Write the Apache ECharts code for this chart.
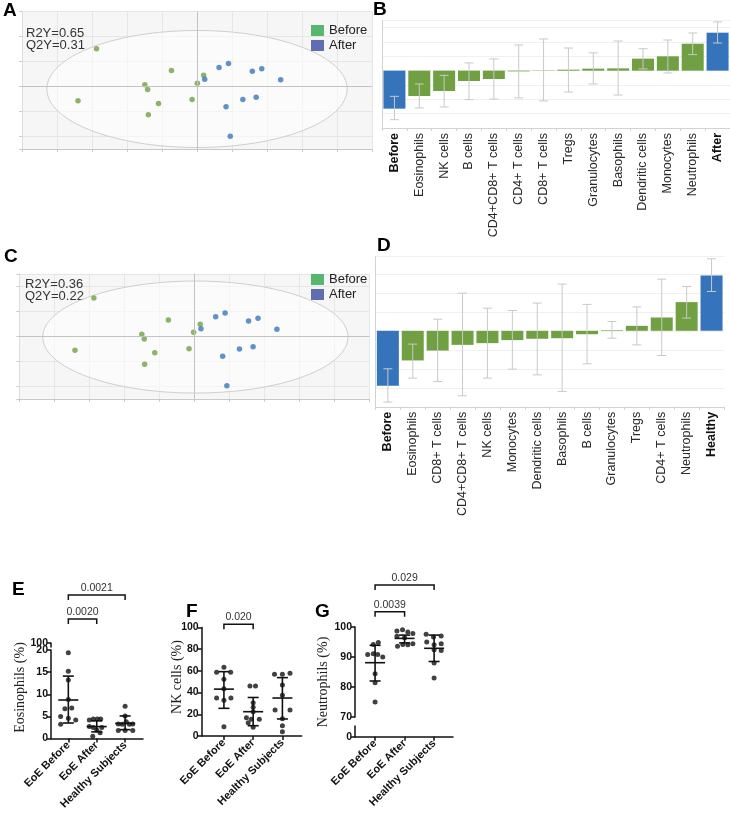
<!DOCTYPE html>
<html>
<head>
<meta charset="utf-8">
<script src="https://cdn.jsdelivr.net/npm/echarts@6/dist/echarts.min.js"></script>
<style>
  html, body { margin: 0; padding: 0; background: #fff; }
  #main { width: 730px; height: 821px; }
</style>
</head>
<body>
<div id="main"></div>
<script>
// ---- A / C : score plots (t1, t2) ----
const aBefore = [[-2.87, 1.51], [-0.73, 0.64], [0.19, 0.45], [0.01, 0.13], [-1.49, 0.07], [-1.41, -0.12], [-3.4, -0.57], [-0.14, -0.52], [-1.1, -0.68], [-1.39, -1.13]]
const aAfter = [[0.63, 0.76], [0.9, 0.92], [1.58, 0.61], [1.85, 0.71], [2.39, 0.27], [0.22, 0.29], [1.31, -0.52], [1.69, -0.43], [0.83, -0.81], [0.95, -1.99]]
const cBefore = [[-2.87, 1.53], [-0.74, 0.65], [0.17, 0.48], [-0.02, 0.16], [-1.5, 0.08], [-1.43, -0.11], [-3.41, -0.56], [-0.15, -0.5], [-1.13, -0.66], [-1.42, -1.12]]
const cAfter = [[0.61, 0.78], [0.88, 0.93], [1.55, 0.61], [1.82, 0.72], [2.36, 0.28], [0.19, 0.3], [1.29, -0.51], [1.68, -0.42], [0.81, -0.8], [0.93, -1.98]]
// ellipse: centre x, centre y, radius x, radius y
const aEllipse = [0, -0.1, 4.29, 2.34]
const cEllipse = [0.03, -0.03, 4.36, 2.24]
const aStats = ['R2Y=0.65', 'Q2Y=0.31']
const cStats = ['R2Y=0.36', 'Q2Y=0.22']

// ---- B / D : coefficients with jack-knife intervals ----
const bCats = ['Before', 'Eosinophils', 'NK cells', 'B cells', 'CD4+CD8+ T cells', 'CD4+ T cells', 'CD8+ T cells', 'Tregs', 'Granulocytes', 'Basophils', 'Dendritic cells', 'Monocytes', 'Neutrophils', 'After']
const bVals = [-2.65, -1.77, -1.42, -0.72, -0.58, -0.05, 0.02, 0.07, 0.14, 0.16, 0.84, 1.0, 1.88, 2.65]
const bLow = [-3.42, -2.6, -2.53, -2.02, -1.98, -1.9, -2.11, -1.49, -0.93, -1.7, 0.12, -0.16, 1.12, 1.93]
const bHigh = [-1.79, -0.93, -0.33, 0.54, 0.82, 1.79, 2.21, 1.58, 1.24, 2.07, 1.53, 2.14, 2.63, 3.4]

const dCats = ['Before', 'Eosinophils', 'CD8+ T cells', 'CD4+CD8+ T cells', 'NK cells', 'Monocytes', 'Dendritic cells', 'Basophils', 'B cells', 'Granulocytes', 'Tregs', 'CD4+ T cells', 'Neutrophils', 'Healthy']
const dVals = [-2.89, -1.56, -1.04, -0.74, -0.65, -0.49, -0.42, -0.39, -0.18, 0.03, 0.26, 0.7, 1.51, 2.91]
const dLow = [-3.75, -2.49, -2.67, -3.42, -2.49, -2.02, -2.32, -3.19, -1.74, -0.39, -0.74, -1.3, 0.67, 2.07]
const dHigh = [-2.0, -0.7, 0.61, 1.98, 1.19, 1.07, 1.46, 2.46, 1.39, 0.49, 1.26, 2.72, 2.33, 3.79]

// ---- E / F / G : individual values, [jitter, value] ----
const groups = ['EoE Before', 'EoE After', 'Healthy Subjects']

const eBefore = [[0, 19.4], [0, 15.2], [0, 13.2], [0, 8.8], [-0.12, 6.7], [0.12, 6.9], [-0.27, 5.0], [0, 4.6], [0.26, 4.2], [-0.27, 3.2]]
const eAfter = [[-0.26, 4.2], [-0.12, 4.4], [0.02, 4.4], [0.14, 4.4], [-0.26, 2.7], [-0.12, 2.5], [0.18, 2.5], [0, 1.9], [0.12, 1.3], [-0.14, 0.5]]
const eHealthy = [[0, 7.3], [0, 5.1], [0.04, 3.8], [-0.24, 3.3], [-0.1, 3.2], [0.15, 3.2], [0.27, 3.3], [-0.24, 1.8], [0, 1.8], [0.27, 1.8]]
const eMean = [8.7, 2.7, 3.4]
const eSdLow = [3.5, 1.5, 2.0]
const eSdHigh = [14.1, 4.0, 5.1]
const ePairs = [[0, 2], [0, 1]]
const eP = ['0.0021', '0.0020']

const fBefore = [[0, 63.3], [-0.25, 58.7], [0.23, 58.7], [0, 52.2], [0, 43.5], [-0.25, 35], [0, 33], [0.24, 35], [0, 8.6]]
const fAfter = [[-0.11, 46.1], [0.08, 46.1], [0, 30.7], [0, 26.4], [0, 22.4], [-0.23, 16.9], [-0.06, 15.4], [0.21, 15.4], [-0.17, 12.3], [0, 8.0]]
const fHealthy = [[-0.27, 56.8], [0, 56.8], [0.26, 57.8], [0, 47], [0, 37.5], [-0.25, 24], [0.26, 24], [0, 16], [0, 9.5], [0, 4]]
const fMean = [43.2, 22.4, 35]
const fSdLow = [25.5, 9.5, 15.7]
const fSdHigh = [59.3, 35.5, 53.8]
const fPairs = [[0, 1]]
const fP = ['0.020']

const gBefore = [[-0.06, 94.2], [0.11, 94.8], [-0.25, 90.8], [-0.06, 91.1], [0.09, 90.8], [0.26, 90], [0, 84.4], [0, 81.4], [0, 75]]
const gAfter = [[-0.26, 98.7], [-0.07, 99.1], [0.11, 98.3], [0.28, 97.8], [-0.26, 96.9], [0, 96.4], [-0.24, 93.6], [-0.06, 94.2], [0.11, 94.1], [0.28, 94.4]]
const gHealthy = [[-0.27, 97.6], [-0.02, 96.7], [0.24, 97], [-0.25, 95], [0, 94.1], [0.24, 94.4], [0, 92.4], [0.24, 92.2], [0, 88], [0, 83]]
const gMean = [88.1, 96.2, 92.9]
const gSdLow = [82, 94.7, 88.5]
const gSdHigh = [93.9, 97.3, 97.3]
const gPairs = [[0, 2], [0, 1]]
const gP = ['0.029', '0.0039']

// 颜色
const green = '#70a042'
const blue = '#3574ba'
const ptGreen = '#72a144'
const ptBlue = '#3a78be'

const chart = echarts.init(document.getElementById('main'))

// 组内散点: 组序号 + 抖动
function spread(groupsData) {
    let out = []
    groupsData.forEach((g, gi) => {
        g.forEach(p => out.push([gi + p[0], p[1]]))
    })
    return out
}

// 误差线 (B, D)
function errRender(params, api) {
    const x = api.value(0)
    const lo = api.coord([x, api.value(1)])
    const hi = api.coord([x, api.value(2)])
    const w = 4.5
    const st = { stroke: '#c9c9c9', lineWidth: 1 }
    return {
        type: 'group',
        children: [
            { type: 'line', shape: { x1: lo[0], y1: lo[1], x2: hi[0], y2: hi[1] }, style: st },
            { type: 'line', shape: { x1: lo[0] - w, y1: lo[1], x2: lo[0] + w, y2: lo[1] }, style: st },
            { type: 'line', shape: { x1: hi[0] - w, y1: hi[1], x2: hi[0] + w, y2: hi[1] }, style: st },
        ],
    }
}

// 均值 ± SD (E, F, G)
function meanRender(params, api) {
    const x = api.value(0)
    const m = api.coord([x, api.value(1)])
    const lo = api.coord([x, api.value(2)])
    const hi = api.coord([x, api.value(3)])
    const st = { stroke: '#111', lineWidth: 1.6 }
    return {
        type: 'group',
        children: [
            { type: 'line', shape: { x1: m[0] - 10, y1: m[1], x2: m[0] + 10, y2: m[1] }, style: st },
            { type: 'line', shape: { x1: lo[0], y1: lo[1], x2: hi[0], y2: hi[1] }, style: st },
            { type: 'line', shape: { x1: lo[0] - 5.5, y1: lo[1], x2: lo[0] + 5.5, y2: lo[1] }, style: st },
            { type: 'line', shape: { x1: hi[0] - 5.5, y1: hi[1], x2: hi[0] + 5.5, y2: hi[1] }, style: st },
        ],
    }
}

// 显著性括号, levels 为像素高度
function bracketRender(levels, labels) {
    return function (params, api) {
        const i = params.dataIndex
        const x1 = api.coord([api.value(0), 0])[0]
        const x2 = api.coord([api.value(1), 0])[0]
        const y = levels[i]
        return {
            type: 'group',
            children: [
                {
                    type: 'polyline',
                    shape: { points: [[x1, y + 5], [x1, y], [x2, y], [x2, y + 5]] },
                    style: { stroke: '#111', lineWidth: 1.5, fill: null },
                },
                {
                    type: 'text',
                    x: (x1 + x2) / 2,
                    y: y - 7,
                    style: { text: labels[i], fontSize: 10.5, fontFamily: 'Arial', fill: '#333', align: 'center', verticalAlign: 'middle' },
                },
            ],
        }
    }
}

function meanData(mean, lo, hi) {
    return mean.map((m, i) => [i, m, lo[i], hi[i]])
}

const scoreX = (grid) => ({
    gridIndex: grid, type: 'value', min: -5, max: 5, interval: 1,
    axisLine: { onZero: false, lineStyle: { color: '#c8c8c8' } },
    axisTick: { show: true, length: 3, lineStyle: { color: '#c8c8c8' } },
    axisLabel: { show: false },
    splitLine: { show: true, lineStyle: { color: '#e6e6e6' } },
})
const scoreY = (grid, min, max) => ({
    gridIndex: grid, type: 'value', min: min, max: max,
    axisLine: { show: true, onZero: false, lineStyle: { color: '#dddddd' } },
    axisTick: { show: true, length: 3, lineStyle: { color: '#cccccc' } },
    axisLabel: { show: false },
    splitLine: { show: true, lineStyle: { color: '#e6e6e6' } },
})
const coefX = (grid, cats) => ({
    gridIndex: grid, type: 'category', data: cats,
    axisLine: { onZero: false, lineStyle: { color: '#d2d2d2' } },
    axisTick: { show: true, length: 3, lineStyle: { color: '#d2d2d2' } },
    axisLabel: {
        interval: 0, rotate: 90, margin: 5, fontSize: 12.5, fontFamily: 'Arial', color: '#2a2a2a',
        formatter: (v, i) => (i === 0 || i === cats.length - 1 ? '{b|' + v + '}' : v),
        rich: { b: { fontWeight: 'bold', fontSize: 12.5, fontFamily: 'Arial', color: '#111' } },
    },
})
const coefY = (grid, max) => ({
    gridIndex: grid, type: 'value', min: -4, max: max, interval: 1,
    axisLine: { show: true, onZero: false, lineStyle: { color: '#d2d2d2' } },
    axisTick: { show: false },
    axisLabel: { show: false },
    splitLine: { show: true, lineStyle: { color: '#f0f0f0' } },
})
const dotX = (grid, min, max, show) => ({
    gridIndex: grid, type: 'value', min: min, max: max, show: show,
    axisLine: { onZero: false, lineStyle: { color: '#111', width: 1.5 } },
    axisTick: { customValues: [0, 1, 2], length: 4, lineStyle: { color: '#111', width: 1.5 } },
    axisLabel: {
        customValues: [0, 1, 2], rotate: 45, margin: 5, fontSize: 11, fontWeight: 'bold', fontFamily: 'Arial', color: '#111',
        formatter: (v) => groups[Math.round(v)],
    },
    splitLine: { show: false },
})
const tickFont = { fontSize: 10.5, fontWeight: 'bold', fontFamily: 'Arial', color: '#111', margin: 3 }
const dotY = (grid, min, max, interval, labelExtra) => ({
    gridIndex: grid, type: 'value', min: min, max: max, interval: interval,
    axisLine: { show: true, onZero: false, lineStyle: { color: '#111', width: 1.5 } },
    axisTick: { show: true, length: 4, lineStyle: { color: '#111', width: 1.5 } },
    axisLabel: Object.assign({}, tickFont, labelExtra || {}),
    splitLine: { show: false },
})

const zeroLines = {
    silent: true, symbol: 'none', label: { show: false }, animation: false,
    lineStyle: { color: '#c2c2c2', type: 'solid', width: 1 },
    data: [{ xAxis: 0 }, { yAxis: 0 }],
}

const letter = (t, x, y) => ({ type: 'text', x: x, y: y, style: { text: t, fontSize: 19, fontWeight: 'bold', fontFamily: 'Arial', fill: '#000', verticalAlign: 'top' } })
const plain = (t, x, y) => ({ type: 'text', x: x, y: y, style: { text: t, fontSize: 13, fontFamily: 'Arial', fill: '#333', verticalAlign: 'middle' } })
const yName = (t, x, y) => ({ type: 'text', x: x, y: y, rotation: Math.PI / 2, style: { text: t, fontSize: 14, fontFamily: 'Liberation Serif', fill: '#222', align: 'center', verticalAlign: 'middle' } })

const legendItems = [
    { name: 'Before', itemStyle: { color: '#2fa84e' } },
    { name: 'After', itemStyle: { color: '#3c4ba0' } },
]
const legendBase = {
    orient: 'vertical', icon: 'rect', itemWidth: 13, itemHeight: 11, itemGap: 2, padding: 0, selectedMode: false,
    textStyle: { fontSize: 13, fontFamily: 'Arial', color: '#222' }, data: legendItems,
}

let option = {
    animation: false,
    backgroundColor: '#ffffff',
    legend: [
        Object.assign({ left: 311, top: 24 }, legendBase),
        Object.assign({ left: 311, top: 273 }, legendBase),
    ],
    grid: [
        { left: 22, top: 11.5, width: 350, height: 137.5, show: true, backgroundColor: '#f6f6f6', borderWidth: 0 }, // A
        { left: 382, top: 20.5, width: 349, height: 107.5 }, // B
        { left: 19.3, top: 273.8, width: 350, height: 125, show: true, backgroundColor: '#f6f6f6', borderWidth: 0 }, // C
        { left: 375.4, top: 256.7, width: 348.6, height: 150.1 }, // D
        { left: 51, top: 643, width: 92, height: 4 }, // E 上段
        { left: 51, top: 650, width: 92, height: 88.5 }, // E
        { left: 201.7, top: 627.5, width: 100, height: 108.5 }, // F
        { left: 355, top: 627, width: 98, height: 90 }, // G
        { left: 355, top: 726, width: 98, height: 10.7 }, // G 下段
    ],
    xAxis: [
        scoreX(0),
        coefX(1, bCats),
        scoreX(2),
        coefX(3, dCats),
        dotX(4, -0.61, 2.63, false),
        dotX(5, -0.61, 2.63, true),
        dotX(6, -0.76, 2.66, true),
        dotX(7, -0.68, 2.64, false),
        dotX(8, -0.68, 2.64, true),
    ],
    yAxis: [
        scoreY(0, -2.5, 3),
        coefY(1, 3.5),
        scoreY(2, -2.5, 2.5),
        coefY(3, 3.9),
        dotY(4, 98, 100, 2, { showMinLabel: false, showMaxLabel: true }),
        dotY(5, 0, 20, 5),
        dotY(6, 0, 100, 20),
        dotY(7, 70, 100, 10),
        dotY(8, 0, 10, 10, { showMinLabel: true, showMaxLabel: false }),
    ],
    series: [
        // A
        { type: 'scatter', name: 'Before', xAxisIndex: 0, yAxisIndex: 0, data: aBefore, symbolSize: 5.5, itemStyle: { color: ptGreen }, markLine: zeroLines, z: 3 },
        { type: 'scatter', name: 'After', xAxisIndex: 0, yAxisIndex: 0, data: aAfter, symbolSize: 5.5, itemStyle: { color: ptBlue }, z: 3 },
        // B
        {
            type: 'bar', xAxisIndex: 1, yAxisIndex: 1, barWidth: 22, silent: true,
            data: bVals.map((v, i) => ({ value: v, itemStyle: { color: i === 0 || i === bVals.length - 1 ? blue : green } })),
        },
        { type: 'custom', xAxisIndex: 1, yAxisIndex: 1, data: bCats.map((c, i) => [i, bLow[i], bHigh[i]]), renderItem: errRender, z: 4 },
        // C
        { type: 'scatter', name: 'Before', xAxisIndex: 2, yAxisIndex: 2, data: cBefore, symbolSize: 5.5, itemStyle: { color: ptGreen }, markLine: zeroLines, z: 3 },
        { type: 'scatter', name: 'After', xAxisIndex: 2, yAxisIndex: 2, data: cAfter, symbolSize: 5.5, itemStyle: { color: ptBlue }, z: 3 },
        // D
        {
            type: 'bar', xAxisIndex: 3, yAxisIndex: 3, barWidth: 22, silent: true,
            data: dVals.map((v, i) => ({ value: v, itemStyle: { color: i === 0 || i === dVals.length - 1 ? blue : green } })),
        },
        { type: 'custom', xAxisIndex: 3, yAxisIndex: 3, data: dCats.map((c, i) => [i, dLow[i], dHigh[i]]), renderItem: errRender, z: 4 },
        // E
        { type: 'scatter', xAxisIndex: 4, yAxisIndex: 4, data: [] },
        { type: 'scatter', xAxisIndex: 5, yAxisIndex: 5, data: spread([eBefore, eAfter, eHealthy]), symbolSize: 5, itemStyle: { color: '#111' } },
        { type: 'custom', xAxisIndex: 5, yAxisIndex: 5, data: meanData(eMean, eSdLow, eSdHigh), renderItem: meanRender, z: 4 },
        { type: 'custom', xAxisIndex: 5, yAxisIndex: 5, data: ePairs, renderItem: bracketRender([595, 619], eP), clip: false },
        // F
        { type: 'scatter', xAxisIndex: 6, yAxisIndex: 6, data: spread([fBefore, fAfter, fHealthy]), symbolSize: 5, itemStyle: { color: '#111' } },
        { type: 'custom', xAxisIndex: 6, yAxisIndex: 6, data: meanData(fMean, fSdLow, fSdHigh), renderItem: meanRender, z: 4 },
        { type: 'custom', xAxisIndex: 6, yAxisIndex: 6, data: fPairs, renderItem: bracketRender([624.3], fP), clip: false },
        // G
        { type: 'scatter', xAxisIndex: 7, yAxisIndex: 7, data: spread([gBefore, gAfter, gHealthy]), symbolSize: 5, itemStyle: { color: '#111' } },
        { type: 'custom', xAxisIndex: 7, yAxisIndex: 7, data: meanData(gMean, gSdLow, gSdHigh), renderItem: meanRender, z: 4 },
        { type: 'custom', xAxisIndex: 7, yAxisIndex: 7, data: gPairs, renderItem: bracketRender([585, 611.7], gP), clip: false },
        { type: 'scatter', xAxisIndex: 8, yAxisIndex: 8, data: [] },
    ],
}

chart.setOption(option)

// 椭圆 + 文字
function ellipseEl(grid, e) {
    const c = chart.convertToPixel({ gridIndex: grid }, [e[0], e[1]])
    const r = chart.convertToPixel({ gridIndex: grid }, [e[0] + e[2], e[1] + e[3]])
    return {
        type: 'ellipse', z: 1, silent: true,
        shape: { cx: c[0], cy: c[1], rx: Math.abs(r[0] - c[0]), ry: Math.abs(c[1] - r[1]) },
        style: { fill: 'rgba(255,255,255,0.55)', stroke: '#cfcfcf', lineWidth: 1 },
    }
}

chart.setOption({
    graphic: [
        ellipseEl(0, aEllipse),
        ellipseEl(2, cEllipse),
        plain(aStats[0], 26, 33.5),
        plain(aStats[1], 26, 45.5),
        plain(cStats[0], 25, 284),
        plain(cStats[1], 25, 296.5),
        letter('A', 3, 1.5),
        letter('B', 373, 0.5),
        letter('C', 4, 247.5),
        letter('D', 377, 236.5),
        letter('E', 12, 580.5),
        letter('F', 186, 602.5),
        letter('G', 315, 602.5),
        yName('Eosinophils (%)', 20, 687.5),
        yName('NK cells (%)', 177, 677),
        yName('Neutrophils (%)', 323, 682),
    ],
})
</script>
</body>
</html>
